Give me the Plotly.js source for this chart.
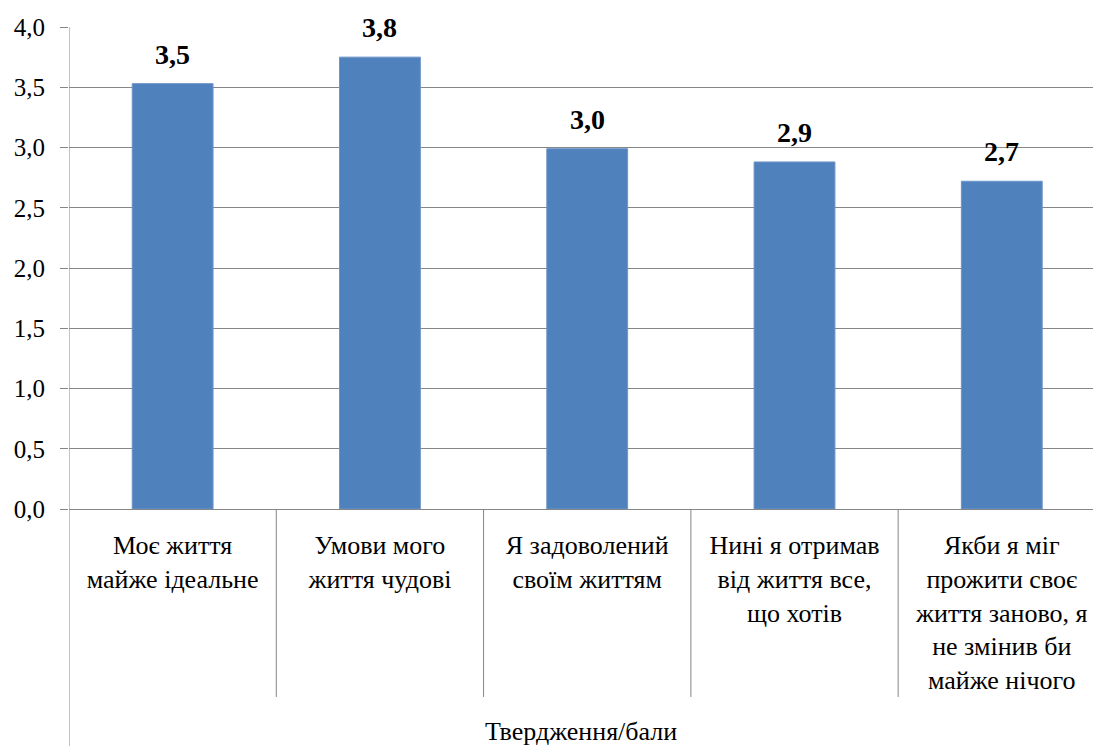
<!DOCTYPE html>
<html>
<head>
<meta charset="utf-8">
<script src="https://cdn.plot.ly/plotly-3.0.1.min.js"></script>
<style>
html, body { margin: 0; padding: 0; background: #fff; font-family: 'Liberation Serif', 'Times New Roman', serif; }
#chart { width: 1094px; height: 746px; }
#fontwarm { position: absolute; left: 0; top: 0; opacity: 0; font-family: 'Liberation Serif'; font-size: 26px; pointer-events: none; }
</style>
</head>
<body>
<div id="fontwarm">Моє життя 3,5 <b>3,5</b> Твердження/бали</div>
<div id="chart"></div>
<script>
const categories = [
  "Моє життя<br>майже ідеальне",
  "Умови мого<br>життя чудові",
  "Я задоволений<br>своїм життям",
  "Нині я отримав<br>від життя все,<br>що хотів",
  "Якби я міг<br>прожити своє<br>життя заново, я<br>не змінив би<br>майже нічого"
];
const values = [3.53, 3.75, 2.99, 2.88, 2.72];
const valueLabels = values.map(v => v.toFixed(1).replace('.', ','));
const yTickVals = [0, 0.5, 1, 1.5, 2, 2.5, 3, 3.5, 4];
const xAxisTitle = "Твердження/бали";

const FONT = 'Liberation Serif';
const idx = categories.map((c, i) => i);

const shapes = [];
for (let i = 0; i < categories.length - 1; i++) {
  shapes.push({type: 'line', xref: 'x', yref: 'paper', x0: i + 0.5, x1: i + 0.5, y0: 0, y1: -0.39,
    line: {color: '#868686', width: 1}});
}
shapes.push({type: 'line', xref: 'x', yref: 'paper', x0: -0.5, x1: -0.5, y0: 1, y1: -0.5,
  line: {color: '#868686', width: 1}});

const annotations = values.map((v, i) => ({
  x: i, y: v, xref: 'x', yref: 'y',
  text: '<b>' + valueLabels[i] + '</b>',
  showarrow: false, yanchor: 'bottom', yshift: 12,
  font: {family: FONT, size: 28, color: '#000'}
}));
annotations.push({
  x: 0.5, y: -0.462, xref: 'paper', yref: 'paper',
  text: xAxisTitle, showarrow: false, yanchor: 'middle',
  font: {family: FONT, size: 26, color: '#000'}
});

const trace = {
  type: 'bar',
  x: idx,
  y: values,
  marker: {color: '#4F81BD', line: {color: '#6d95c9', width: 1}},
  hoverinfo: 'none'
};

const layout = {
  width: 1094, height: 746,
  margin: {l: 69, r: 1, t: 27, b: 237},
  paper_bgcolor: '#fff', plot_bgcolor: '#fff',
  separators: ', ',
  bargap: 0.61,
  showlegend: false,
  font: {family: FONT, color: '#000'},
  xaxis: {
    range: [-0.5, 4.44],
    tickmode: 'array', tickvals: idx, ticktext: categories,
    tickfont: {family: FONT, size: 26, color: '#000'},
    ticks: '', showgrid: false, zeroline: false, showline: false,
    tickangle: 0, ticklabelstandoff: 18,
    automargin: false
  },
  yaxis: {
    range: [0, 4],
    tickmode: 'array', tickvals: yTickVals,
    tickformat: '.1f',
    tickfont: {family: FONT, size: 25, color: '#000'},
    ticks: 'outside', ticklen: 8, tickcolor: '#868686',
    ticklabelstandoff: 10,
    showgrid: true, gridcolor: '#868686', gridwidth: 1,
    zeroline: true, zerolinecolor: '#868686', zerolinewidth: 1,
    showline: false,
    automargin: false
  },
  shapes: shapes,
  annotations: annotations
};

Plotly.newPlot('chart', [trace], layout, {displayModeBar: false});
</script>
</body>
</html>
